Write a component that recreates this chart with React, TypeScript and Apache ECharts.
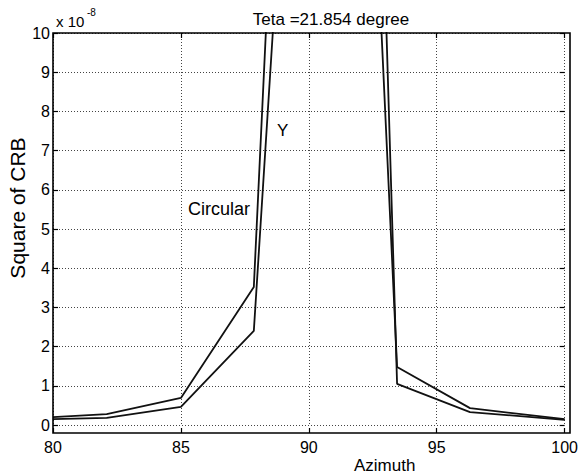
import React, { useEffect, useRef } from "react";
import * as echarts from "echarts";

const azimuth = [80, 82.1, 85, 87.85, 89, 91, 92.5, 93.45, 96.3, 100];
const circularValues = [0.2, 0.28, 0.69, 3.52, 19.4, 40, 14.8, 1.48, 0.43, 0.15];
const yValues = [0.15, 0.18, 0.46, 2.4, 14.2, 40, 21.6, 1.05, 0.33, 0.13];
const titleText = "Teta =21.854 degree";
const FONT = "'Liberation Sans', Arial, sans-serif";

export default function App() {
  const ref = useRef<HTMLDivElement>(null);
  useEffect(() => {
    const chart = echarts.init(ref.current!, null, { renderer: "svg" });
    const gridLine = { show: true, lineStyle: { color: "#444", type: [1, 2] as any, width: 1 } };
    const tick = { show: true, inside: true, length: 5, lineStyle: { color: "#000", width: 1.2 } };
    chart.setOption({
      animation: false,
      backgroundColor: "#fff",
      title: {
        text: titleText,
        left: 326,
        textAlign: "center",
        top: 6,
        textStyle: { fontFamily: FONT, fontSize: 17, fontWeight: "normal", color: "#000" },
      },
      grid: { left: 53, right: 11, top: 33, bottom: 51 },
      xAxis: [
        {
          type: "value",
          min: 80,
          max: 100,
          interval: 5,
          position: "bottom",
          offset: 8,
          axisLine: { show: false, onZero: false },
          axisTick: tick,
          splitLine: gridLine,
          axisLabel: { fontFamily: FONT, fontSize: 16, color: "#000", margin: 6 },
        },
        {
          type: "value",
          min: 80,
          max: 100,
          interval: 5,
          position: "top",
          axisLine: { show: false, onZero: false },
          axisTick: tick,
          splitLine: { show: false },
          axisLabel: { show: false },
        },
      ],
      yAxis: [
        {
          type: "value",
          min: 0,
          max: 10,
          interval: 1,
          position: "left",
          axisLine: { show: false, onZero: false },
          axisTick: tick,
          splitLine: gridLine,
          axisLabel: { fontFamily: FONT, fontSize: 16, color: "#000", margin: 3 },
        },
        {
          type: "value",
          min: 0,
          max: 10,
          interval: 1,
          position: "right",
          axisLine: { show: false, onZero: false },
          axisTick: tick,
          splitLine: { show: false },
          axisLabel: { show: false },
        },
      ],
      graphic: [
        {
          type: "rect",
          shape: { x: 53, y: 33, width: 517, height: 400 },
          style: { fill: "none", stroke: "#000", lineWidth: 1.6 },
          z: 100,
        },
        {
          type: "text",
          x: 56,
          y: 14,
          style: { text: "x 10", fontFamily: FONT, fontSize: 15, fill: "#000" },
        },
        {
          type: "text",
          x: 87,
          y: 7,
          style: { text: "-8", fontFamily: FONT, fontSize: 10, fill: "#000" },
        },
        {
          type: "text",
          x: 17,
          y: 208,
          rotation: Math.PI / 2,
          style: {
            text: "Square of CRB",
            fontFamily: FONT,
            fontSize: 21,
            fill: "#000",
            align: "center",
            verticalAlign: "middle",
          },
        },
        {
          type: "text",
          x: 354,
          y: 457,
          style: { text: "Azimuth", fontFamily: FONT, fontSize: 17, fill: "#000" },
        },
        {
          type: "text",
          x: 277,
          y: 122,
          style: { text: "Y", fontFamily: FONT, fontSize: 17, fill: "#000" },
        },
        {
          type: "text",
          x: 188,
          y: 200,
          style: { text: "Circular", fontFamily: FONT, fontSize: 18, fill: "#000" },
        },
      ],
      series: [
        {
          name: "Circular",
          type: "line",
          data: azimuth.map((a, i) => [a, circularValues[i]]),
          showSymbol: false,
          clip: true,
          lineStyle: { color: "#111", width: 1.8 },
        },
        {
          name: "Y",
          type: "line",
          data: azimuth.map((a, i) => [a, yValues[i]]),
          showSymbol: false,
          clip: true,
          lineStyle: { color: "#111", width: 1.8 },
        },
      ],
    });
    return () => chart.dispose();
  }, []);
  return <div ref={ref} style={{ width: 581, height: 476, position: "absolute", left: 0, top: 0 }} />;
}
